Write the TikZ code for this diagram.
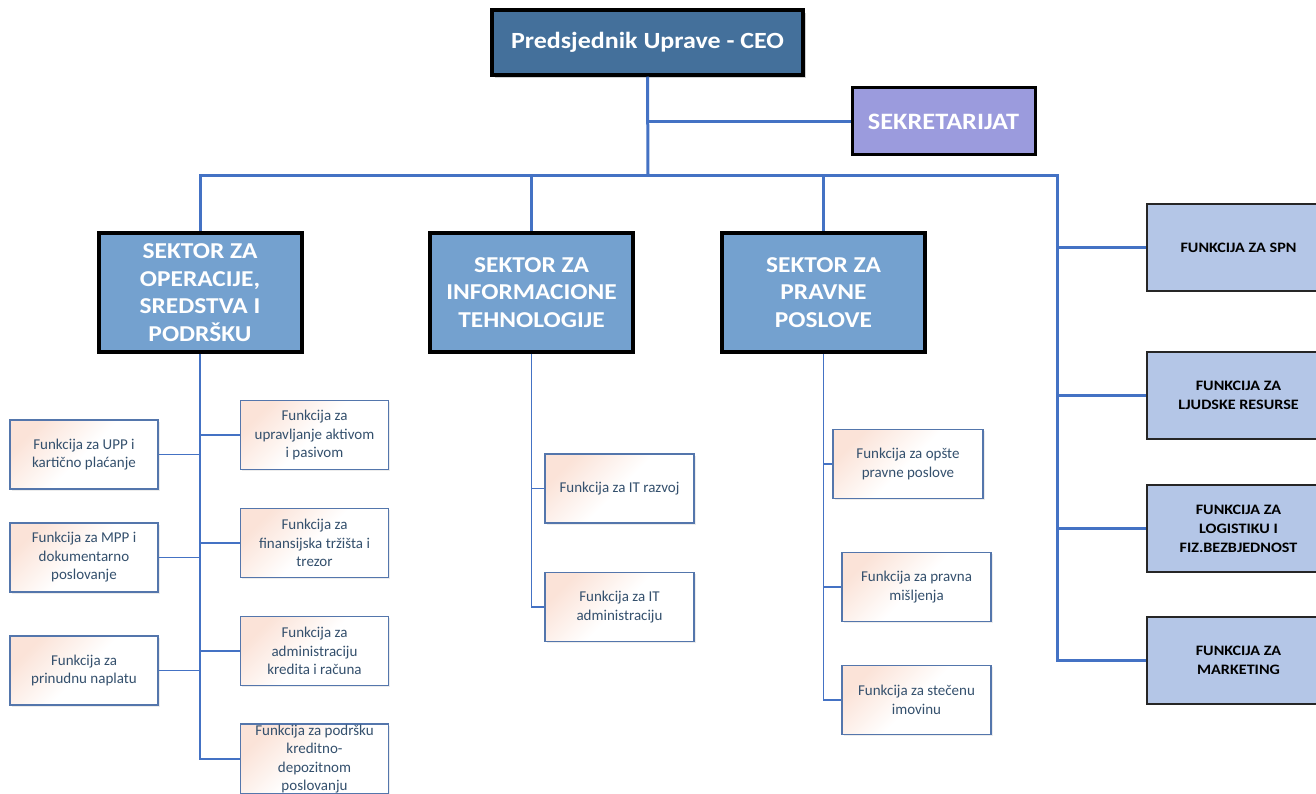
\documentclass[tikz,border=0pt]{standalone}
\usepackage{fontspec}
\setmainfont{Carlito}
\newfontfamily\wideb[FakeStretch=1.12]{Carlito}
\usetikzlibrary{shadows}
\definecolor{ceoc}{HTML}{44709B}
\definecolor{sekc}{HTML}{9B9BDD}
\definecolor{sektc}{HTML}{74A1CF}
\definecolor{rbc}{HTML}{B4C6E7}
\definecolor{linec}{HTML}{4472C4}
\definecolor{fpink}{HTML}{FBE3D8}
\definecolor{fbord}{HTML}{5476AC}
\definecolor{ftext}{HTML}{34506D}
\tikzset{
  ceobox/.style={draw=black, line width=3.5pt, fill=ceoc, text=white, inner sep=0pt,
    font=\wideb\bfseries\fontsize{23.2}{27}\selectfont, align=center,
    drop shadow={opacity=0.35, shadow xshift=3pt, shadow yshift=-3pt}},
  sekbox/.style={draw=black, line width=3pt, fill=sekc, text=white, inner sep=0pt,
    font=\wideb\bfseries\fontsize{23.5}{27}\selectfont, align=center},
  sektbox/.style={draw=black, line width=4pt, fill=sektc, text=white, inner sep=0pt,
    minimum width=203pt, minimum height=119pt,
    font=\wideb\bfseries\fontsize{22.7}{27.5}\selectfont, align=center},
  rbox/.style={draw=black!85, line width=2pt, fill=rbc, text=black, inner sep=0pt,
    minimum width=183pt, minimum height=87pt,
    font=\wideb\bfseries\fontsize{14.4}{19}\selectfont, align=center},
  fbox/.style={draw=fbord, line width=1.3pt, top color=fpink, bottom color=white,
    middle color=white, shading angle=45, text=ftext, inner sep=0pt,
    minimum width=148pt, minimum height=69pt,
    font=\fontsize{15}{18.5}\selectfont, align=center,
    drop shadow={opacity=0.15, shadow xshift=1.5pt, shadow yshift=-1.5pt}},
  mainline/.style={draw=linec, line width=3pt},
  subline/.style={draw=linec, line width=1.2pt},
}
\begin{document}
\begin{tikzpicture}[x=1pt,y=-1pt]
\useasboundingbox (0,0) rectangle (1316,794);
\fill[white] (0,0) rectangle (1316,794);
% top
\node[ceobox, minimum width=311pt, minimum height=65pt] (ceo) at (647.5,42.5) {Predsjednik Uprave - CEO};
\node[sekbox, minimum width=183pt, minimum height=67pt] (sek) at (943.5,121.5) {SEKRETARIJAT};
% sectors
\node[sektbox] (s1) at (200,292.5) {SEKTOR ZA\\OPERACIJE,\\SREDSTVA I\\PODRŠKU};
\node[sektbox] (s2) at (531.5,292.5) {SEKTOR ZA\\INFORMACIONE\\TEHNOLOGIJE};
\node[sektbox] (s3) at (823.5,292.5) {SEKTOR ZA\\PRAVNE\\POSLOVE};
% right functions
\node[rbox] (spn) at (1238.5,247.5) {FUNKCIJA ZA SPN};
\node[rbox] (hr) at (1238.5,395) {FUNKCIJA ZA\\LJUDSKE RESURSE};
\node[rbox] (log) at (1238.5,528.5) {FUNKCIJA ZA\\LOGISTIKU I\\FIZ.BEZBJEDNOST};
\node[rbox] (mkt) at (1238.5,660.5) {FUNKCIJA ZA\\MARKETING};
% sector 1 children
\node[fbox] (upp) at (84,454.5) {Funkcija za UPP i\\kartično plaćanje};
\node[fbox] (mpp) at (84,557.5) {Funkcija za MPP i\\dokumentarno\\poslovanje};
\node[fbox] (prin) at (84,670.5) {Funkcija za\\prinudnu naplatu};
\node[fbox] (akt) at (314.5,435) {Funkcija za\\upravljanje aktivom\\i pasivom};
\node[fbox] (trz) at (314.5,543) {Funkcija za\\finansijska tržišta i\\trezor};
\node[fbox] (kred) at (314.5,651) {Funkcija za\\administraciju\\kredita i računa};
\node[fbox, minimum height=70pt] (pod) at (314.5,759) {Funkcija za podršku\\kreditno-\\depozitnom\\poslovanju};
% sector 2 children
\node[fbox, minimum width=149pt] (itr) at (619.5,488.5) {Funkcija za IT razvoj};
\node[fbox, minimum width=149pt] (ita) at (619.5,607) {Funkcija za IT\\administraciju};
% sector 3 children
\node[fbox, minimum width=150pt] (ops) at (908,464) {Funkcija za opšte\\pravne poslove};
\node[fbox, minimum width=149pt] (prav) at (916.5,587) {Funkcija za pravna\\mišljenja};
\node[fbox, minimum width=149pt] (stec) at (916.5,700) {Funkcija za stečenu\\imovinu};
% main connectors
\coordinate (bus) at (648,176);
\coordinate (rb) at (1057,176);
\draw[mainline] (ceo.south) -- (bus);
\draw[mainline] (ceo.south) |- (sek.west);
\draw[mainline] (bus) -| (s1.north);
\draw[mainline] (bus) -| (s2.north);
\draw[mainline] (bus) -| (s3.north);
\draw[mainline] (bus) -- (rb) |- (mkt.west);
\draw[mainline] (rb) |- (spn.west);
\draw[mainline] (rb) |- (hr.west);
\draw[mainline] (rb) |- (log.west);
% sub connectors
\draw[subline] (s1.south) |- (upp.east);
\draw[subline] (s1.south) |- (mpp.east);
\draw[subline] (s1.south) |- (prin.east);
\draw[subline] (s1.south) |- (akt.west);
\draw[subline] (s1.south) |- (trz.west);
\draw[subline] (s1.south) |- (kred.west);
\draw[subline] (s1.south) |- (pod.west);
\draw[subline] (s2.south) |- (itr.west);
\draw[subline] (s2.south) |- (ita.west);
\draw[subline] (s3.south) |- (ops.west);
\draw[subline] (s3.south) |- (prav.west);
\draw[subline] (s3.south) |- (stec.west);
\end{tikzpicture}
\end{document}
